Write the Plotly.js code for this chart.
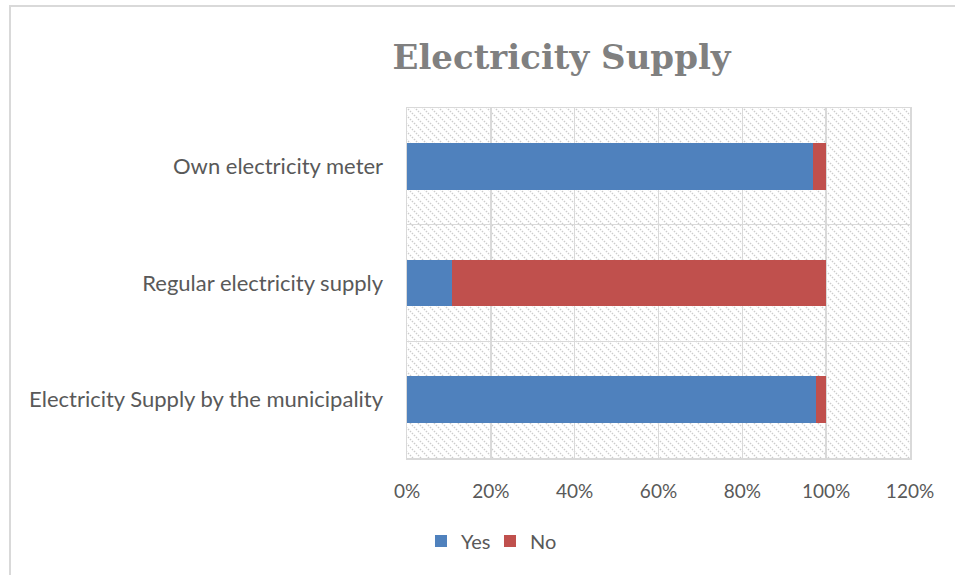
<!DOCTYPE html>
<html>
<head>
<meta charset="utf-8">
<script src="https://cdn.plot.ly/plotly-3.0.1.min.js"></script>
<style>
html,body{margin:0;padding:0;background:#fff;overflow:hidden;}
#frame{position:absolute;left:9px;top:5px;width:1200px;height:1200px;border:2px solid #d9d9d9;box-sizing:border-box;}
#chart{position:absolute;left:0;top:0;width:955px;height:575px;}
</style>
</head>
<body>
<div id="frame"></div>
<div id="chart"></div>
<script>
const categories = ["Electricity Supply by the municipality", "Regular electricity supply", "Own electricity meter"];
const yesValues = [0.976, 0.107, 0.969];
const noValues = [0.024, 0.893, 0.031];
const xTickValues = [0, 0.2, 0.4, 0.6, 0.8, 1.0, 1.2];
const xTickLabels = ["0%", "20%", "40%", "60%", "80%", "100%", "120%"];

const hatchSvg = '<svg xmlns="http://www.w3.org/2000/svg" width="503" height="350">' +
  '<defs><pattern id="h" patternUnits="userSpaceOnUse" width="8" height="8">' +
  '<path d="M-1,-1 L9,9 M-1,7 L1,9 M7,-1 L9,1" stroke="#cccccc" stroke-width="1.4" stroke-dasharray="1.5,1.3"/>' +
  '</pattern></defs><rect width="503" height="350" fill="url(#h)"/></svg>';
const hatchUri = 'data:image/svg+xml;charset=utf-8,' + encodeURIComponent(hatchSvg);

const fontFam = 'Lato, "Liberation Sans", sans-serif';
const textColor = '#595959';

const traces = [
  {type:'bar', orientation:'h', name:'Yes', y:categories, x:yesValues,
   marker:{color:'#4F81BD'}, hoverinfo:'skip'},
  {type:'bar', orientation:'h', name:'No', y:categories, x:noValues,
   marker:{color:'#C0504D'}, hoverinfo:'skip'}
];

const layout = {
  width:955, height:575,
  margin:{l:407, r:45, t:108, b:117},
  paper_bgcolor:'rgba(0,0,0,0)', plot_bgcolor:'rgba(0,0,0,0)',
  barmode:'stack', bargap:0.6,
  showlegend:true,
  title:{text:'<b>Electricity Supply</b>', x:0.588, xanchor:'center', xref:'container',
         y:0.90, yanchor:'middle', yref:'container',
         font:{family:'"DejaVu Serif", "Liberation Serif", serif', size:34, color:'#808080'}},
  xaxis:{range:[0,1.2], tickvals:xTickValues, ticktext:xTickLabels,
         showgrid:true, gridcolor:'#d9d9d9', gridwidth:1.5,
         showline:true, linecolor:'#d9d9d9', linewidth:1.5, mirror:true,
         zeroline:false, ticks:'', ticklabelstandoff:16,
         tickfont:{family:fontFam, size:19, color:textColor}, fixedrange:true},
  yaxis:{type:'category', tickson:'boundaries', showgrid:true, gridcolor:'#d9d9d9', gridwidth:1.5,
         showline:true, linecolor:'#d9d9d9', linewidth:1.5, mirror:true,
         ticks:'', ticklabelstandoff:18,
         tickfont:{family:fontFam, size:22, color:textColor}, fixedrange:true},
  legend:{orientation:'h', traceorder:'normal', x:0.165, xanchor:'center', y:-0.237, yanchor:'middle',
          font:{family:fontFam, size:20, color:textColor}, itemwidth:30, tracegroupgap:0,
          entrywidth:24, entrywidthmode:'pixels'},
  images:[{source:hatchUri, xref:'paper', yref:'paper', x:0, y:1, sizex:1, sizey:1,
           xanchor:'left', yanchor:'top', sizing:'stretch', layer:'below'}]
};

Plotly.newPlot('chart', traces, layout, {staticPlot:true, displayModeBar:false});
</script>
</body>
</html>
